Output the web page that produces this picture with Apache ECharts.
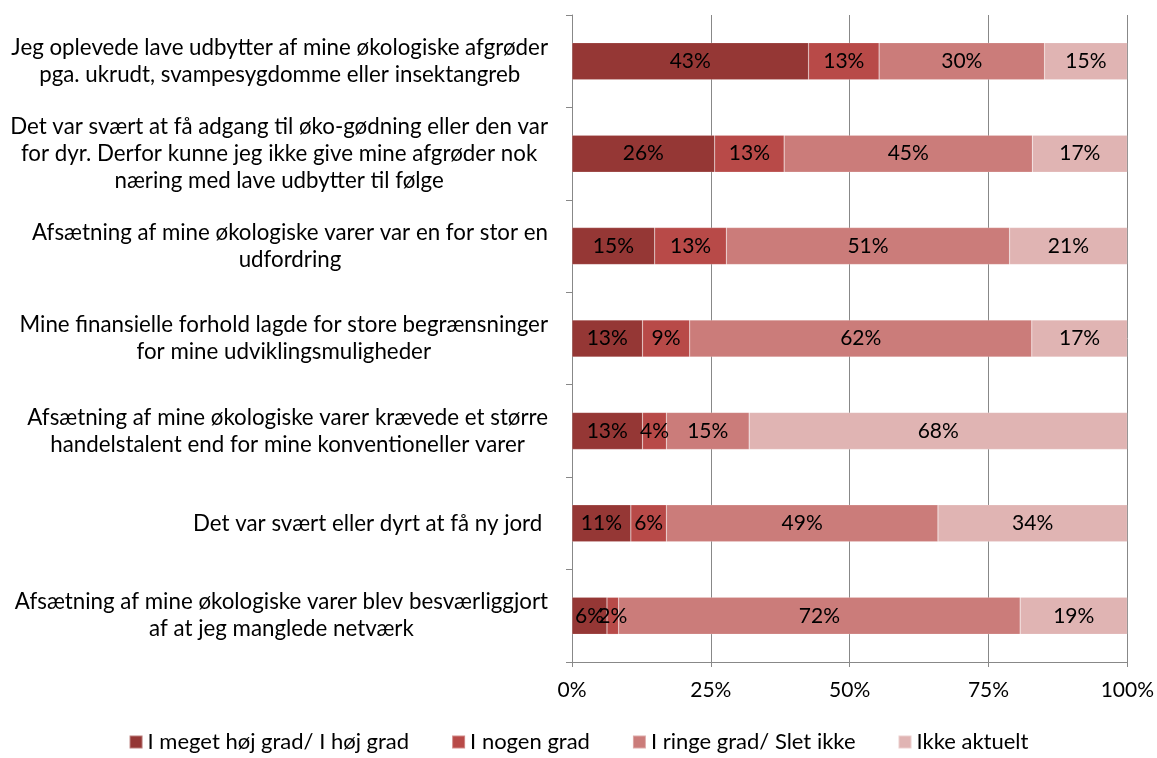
<!DOCTYPE html>
<html>
<head>
<meta charset="UTF-8">
<title>Udfordringer</title>
<script src="https://cdn.jsdelivr.net/npm/echarts@6/dist/echarts.min.js"></script>
<style>
  html, body { margin: 0; padding: 0; background: #fff; }
  #chart { width: 1157px; height: 758px; }
</style>
</head>
<body>
<div id="chart"></div>
<script>
// kategorier (oppefra og ned)
var categories = [
  'Jeg oplevede lave udbytter af mine økologiske afgrøder\npga. ukrudt, svampesygdomme eller insektangreb',
  'Det var svært at få adgang til øko-gødning eller den var\nfor dyr. Derfor kunne jeg ikke give mine afgrøder nok\nnæring med lave udbytter til følge',
  'Afsætning af mine økologiske varer var en for stor en\nudfordring',
  'Mine finansielle forhold lagde for store begrænsninger\nfor mine udviklingsmuligheder',
  'Afsætning af mine økologiske varer krævede et større\nhandelstalent end for mine konventioneller varer',
  'Det var svært eller dyrt at få ny jord ',
  'Afsætning af mine økologiske varer blev besværliggjort\naf at jeg manglede netværk'
];
var seriesNames = ['I meget høj grad/ I høj grad', 'I nogen grad', 'I ringe grad/ Slet ikke', 'Ikke aktuelt'];
var hoej = [42.6, 25.7, 14.9, 12.7, 12.7, 10.6, 6.3];
var nogen = [12.7, 12.5, 12.9, 8.5, 4.3, 6.4, 2.1];
var ringe = [29.8, 44.7, 51.0, 61.6, 14.9, 48.9, 72.3];
var ikke = [14.9, 17.1, 21.2, 17.2, 68.1, 34.1, 19.3];
var xTicks = ['0%', '25%', '50%', '75%', '100%'];

var colors = ['#953735', '#b84a48', '#cb7c7a', '#e0b4b3'];
var font = 'Lato, "Open Sans", sans-serif';

var chart = echarts.init(document.getElementById('chart'));
var values = [hoej, nogen, ringe, ikke];
var series = seriesNames.map(function (name, i) {
  return {
    name: name,
    type: 'bar',
    stack: 'total',
    barWidth: 37,
    data: values[i],
    itemStyle: { color: colors[i], borderColor: 'rgba(255,255,255,0.35)', borderWidth: 0.5 },
    label: {
      show: true,
      position: 'inside',
      color: '#000',
      fontFamily: font,
      fontSize: 21,
      formatter: function (p) { return Math.round(p.value) + '%'; }
    }
  };
});

chart.setOption({
  animation: false,
  color: colors,
  textStyle: { fontFamily: font },
  grid: { left: 572, right: 28, top: 15, bottom: 96, containLabel: false },
  legend: {
    bottom: 0,
    left: 'center',
    itemWidth: 13,
    itemHeight: 13,
    itemGap: 42,
    icon: 'rect',
    textStyle: { fontFamily: font, fontSize: 22, color: '#000' },
    data: seriesNames
  },
  xAxis: {
    type: 'value',
    min: 0,
    max: 100,
    interval: 25,
    axisLine: { show: true, lineStyle: { color: '#888' } },
    axisTick: { show: true, length: 5, lineStyle: { color: '#888' } },
    splitLine: { show: true, lineStyle: { color: '#888', width: 1 } },
    axisLabel: {
      color: '#000',
      fontFamily: font,
      fontSize: 21,
      margin: 18,
      formatter: function (v) { return xTicks[v / 25]; }
    }
  },
  yAxis: {
    type: 'category',
    inverse: true,
    data: categories,
    axisLine: { show: true, lineStyle: { color: '#888' } },
    axisTick: { show: true, length: 6, lineStyle: { color: '#888' } },
    axisLabel: {
      margin: 24,
      align: 'right',
      formatter: function (v) {
        return v.split('\n').map(function (l) { return '{c|' + l + '}'; }).join('\n');
      },
      rich: {
        c: { align: 'center', color: '#000', fontFamily: font, fontSize: 22.3, lineHeight: 27 }
      }
    }
  },
  series: series
});
</script>
</body>
</html>
